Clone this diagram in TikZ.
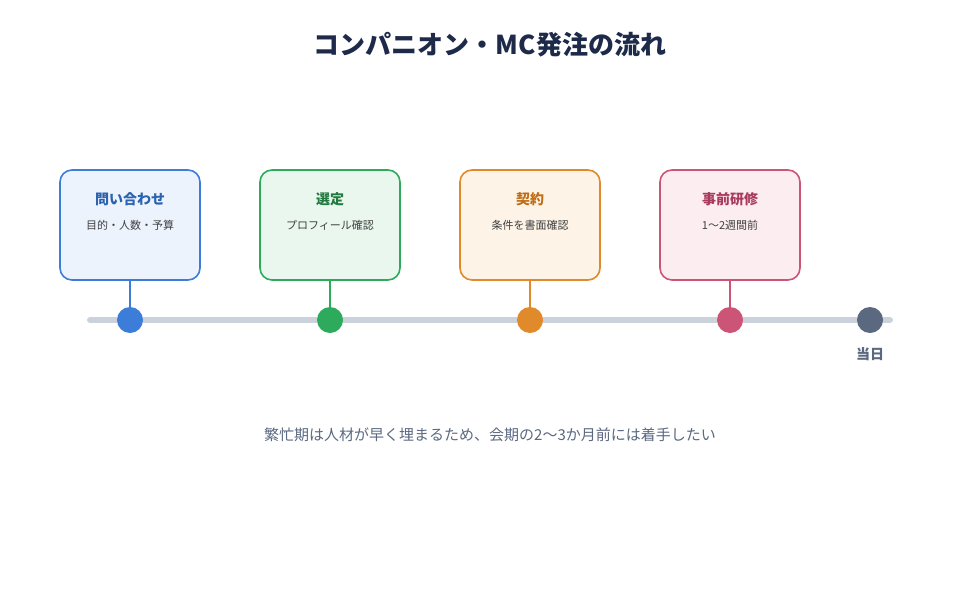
\documentclass[tikz,border=0pt]{standalone}
\usepackage{fontspec}
\setmainfont{Noto Sans CJK JP}
\newfontfamily\jpb{Noto Sans CJK JP Bold}
\begin{document}
\begin{tikzpicture}[x=1pt,y=-1pt,
 box/.style={draw=#1,line width=1.6pt,rounded corners=12pt,minimum width=140pt,minimum height=110pt},
 dot/.style={circle,fill=#1,minimum size=26pt,inner sep=0pt},
 hd/.style={font=\fontsize{14}{16}\selectfont\bfseries},
 sub/.style={font=\fontsize{11}{13}\selectfont,text=black!75}]
\useasboundingbox (0,0) rectangle (980,600);
\definecolor{cB}{HTML}{3B7DD8}\definecolor{fB}{HTML}{EDF3FD}\definecolor{tB}{HTML}{2A62B0}
\definecolor{cG}{HTML}{2EAA5C}\definecolor{fG}{HTML}{E9F7EE}\definecolor{tG}{HTML}{237A40}
\definecolor{cO}{HTML}{E08A2C}\definecolor{fO}{HTML}{FDF3E7}\definecolor{tO}{HTML}{C06D15}
\definecolor{cP}{HTML}{CC5577}\definecolor{fP}{HTML}{FCEDF1}\definecolor{tP}{HTML}{A83A5C}
\definecolor{navy}{HTML}{1E2A4A}\definecolor{gr}{HTML}{5A6880}\definecolor{ln}{HTML}{CBD2DC}
\node[font=\fontsize{26}{30}\selectfont\bfseries,text=navy] (title) at (490,45) {コンパニオン・MC発注の流れ};
\coordinate (L) at (90,320); \coordinate (R) at (890,320);
\draw[ln,line width=6pt,line cap=round] (L) -- (R);
\foreach \x/\c/\f/\t/\h/\s/\n in {130/cB/fB/tB/問い合わせ/目的・人数・予算/a,330/cG/fG/tG/選定/プロフィール確認/b,530/cO/fO/tO/契約/条件を書面確認/c,730/cP/fP/tP/事前研修/1〜2週間前/d}{
 \node[box=\c,fill=\f] (box\n) at (\x,225) {};
 \node[hd,text=\t] (h\n) at (\x,199) {\h};
 \node[sub] (s\n) at (\x,225) {\s};
 \node[dot=\c] (d\n) at (\x,320) {};
 \draw[\c,line width=1.6pt] (box\n.south) -- (d\n.north);
}
\node[dot=gr] (de) at (870,320) {};
\node[hd,text=gr,font=\fontsize{14}{16}\selectfont\bfseries] (day) at (870,354) {当日};
\node[font=\fontsize{15}{18}\selectfont,text=gr] (note) at (490,435) {繁忙期は人材が早く埋まるため、会期の2〜3か月前には着手したい};
\end{tikzpicture}
\end{document}
